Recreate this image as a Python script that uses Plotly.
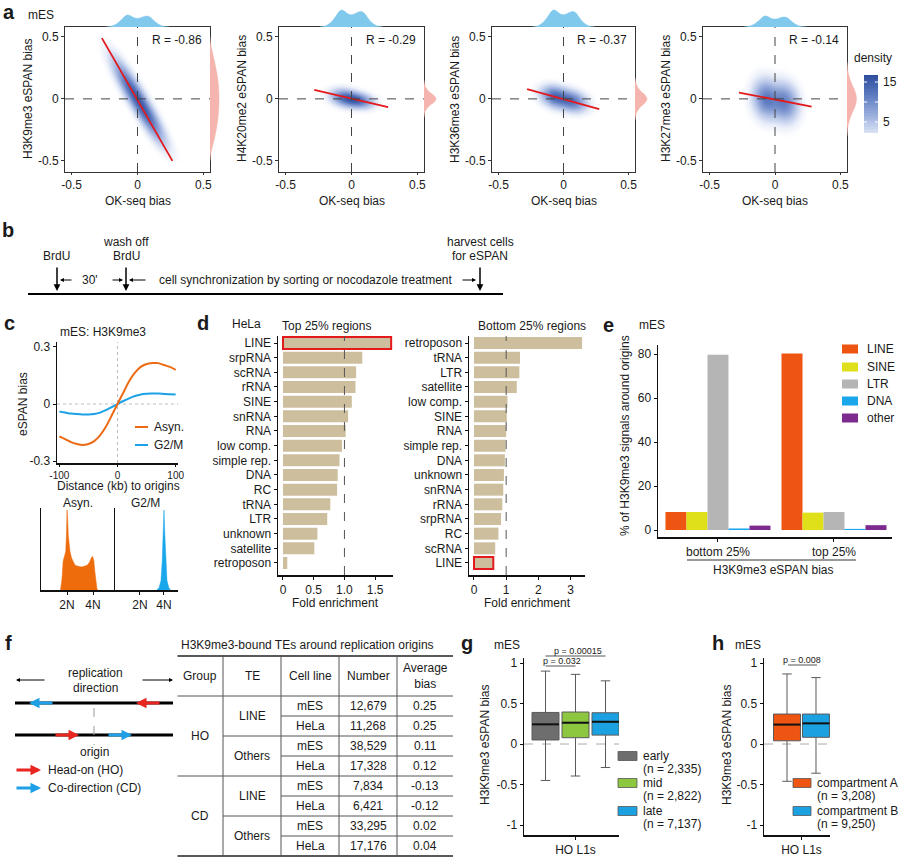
import numpy as np
import plotly.graph_objects as go

W, H = 901, 860
FONT = "Liberation Sans, Arial, Helvetica, sans-serif"
TXT = "#1a1a1a"

# ======================= DATA =======================
# ---- panel a ----
a_ylabels = ["H3K9me3 eSPAN bias", "H4K20me2 eSPAN bias", "H3K36me3 eSPAN bias", "H3K27me3 eSPAN bias"]
a_r = ["R = -0.86", "R = -0.29", "R = -0.37", "R = -0.14"]
a_fit_x0 = [-0.27, -0.283, -0.28, -0.275]
a_fit_y0 = [0.49, 0.073, 0.078, 0.051]
a_fit_x1 = [0.265, 0.278, 0.275, 0.28]
a_fit_y1 = [-0.50, -0.067, -0.083, -0.062]
# density blobs: centre x / centre y / sd x / sd y / correlation / weight
a_blob_cx = [[-0.06, 0.08], [-0.05, 0.06], [-0.07, 0.07], [-0.07, 0.08]]
a_blob_cy = [[0.10, -0.14], [0.01, -0.015], [0.02, -0.02], [0.0, -0.03]]
a_blob_sx = [[0.09, 0.09], [0.07, 0.07], [0.07, 0.07], [0.065, 0.065]]
a_blob_sy = [[0.155, 0.155], [0.045, 0.04], [0.055, 0.055], [0.1, 0.1]]
a_blob_rho = [[-0.86, -0.86], [-0.2, -0.2], [-0.2, -0.2], [-0.1, -0.1]]
a_blob_w = [[1.0, 1.0], [1.0, 0.95], [1.0, 0.9], [1.0, 0.95]]
a_peak = [15.5, 16.5, 14.5, 12]
# marginal densities
a_marg_x = [-0.24, -0.2, -0.16, -0.12, -0.1, -0.08, -0.06, -0.04, -0.02, 0.0, 0.02, 0.04, 0.06, 0.08, 0.1, 0.12, 0.16, 0.2, 0.24]
a_marg_top = [0, 0.06, 0.25, 0.62, 0.85, 1.0, 0.97, 0.85, 0.75, 0.72, 0.76, 0.84, 0.9, 0.9, 0.8, 0.58, 0.22, 0.05, 0]
a_top_px = [12, 17, 17, 11]
a_right_y = [
    [0.5, 0.45, 0.4, 0.3, 0.2, 0.1, 0, -0.1, -0.2, -0.3, -0.4, -0.45, -0.5],
    [0.15, 0.1, 0.06, 0.03, 0, -0.03, -0.06, -0.1, -0.15],
    [0.17, 0.12, 0.07, 0.035, 0, -0.035, -0.07, -0.12, -0.17],
    [0.3, 0.2, 0.12, 0.06, 0, -0.06, -0.12, -0.2, -0.3]]
a_right_w = [
    [0, 0.05, 0.2, 0.5, 0.78, 0.95, 1.0, 0.95, 0.8, 0.55, 0.22, 0.06, 0],
    [0, 0.1, 0.4, 0.8, 1.0, 0.8, 0.4, 0.1, 0],
    [0, 0.1, 0.4, 0.8, 1.0, 0.8, 0.4, 0.1, 0],
    [0, 0.15, 0.5, 0.85, 1.0, 0.85, 0.5, 0.15, 0]]
a_right_px = [9, 12, 12, 9.5]
a_cbar_ticks = [5, 10, 15]
a_cbar_text = ["5", "", "15"]

# ---- panel c ----
c_x = [-100, -90, -80, -70, -60, -50, -40, -30, -20, -10, 0, 10, 20, 30, 40, 50, 60, 70, 80, 90, 100]
c_asyn = [-0.17, -0.185, -0.20, -0.21, -0.215, -0.21, -0.195, -0.165, -0.12, -0.06, 0.0,
          0.06, 0.12, 0.165, 0.195, 0.21, 0.215, 0.215, 0.205, 0.195, 0.18]
c_g2m = [-0.04, -0.045, -0.05, -0.053, -0.055, -0.055, -0.052, -0.045, -0.032, -0.016, 0.0,
         0.016, 0.03, 0.042, 0.05, 0.054, 0.055, 0.055, 0.053, 0.051, 0.05]
hist_asyn_x = [1.5, 1.56, 1.62, 1.7, 1.8, 1.9, 1.96, 2.0, 2.04, 2.1, 2.17, 2.23, 2.35, 2.5, 2.62, 2.8, 3.0, 3.2,
               3.4, 3.55, 3.7, 3.8, 3.9, 3.98, 4.06, 4.15, 4.22, 4.3, 4.35]
hist_asyn_y = [0, 0.06, 0.15, 0.36, 0.42, 0.48, 0.7, 1.0, 0.92, 0.68, 0.55, 0.48, 0.4, 0.34, 0.31, 0.3, 0.29, 0.29,
               0.3, 0.31, 0.34, 0.38, 0.41, 0.42, 0.37, 0.22, 0.1, 0.02, 0]
hist_g2m_x = [3.4, 3.6, 3.75, 3.85, 3.93, 4.0, 4.07, 4.15, 4.25, 4.4, 4.55]
hist_g2m_y = [0, 0.03, 0.12, 0.35, 0.7, 1.0, 0.7, 0.35, 0.12, 0.03, 0]

# ---- panel d ----
d_top_cats = ["LINE", "srpRNA", "scRNA", "rRNA", "SINE", "snRNA", "RNA", "low comp.", "simple rep.", "DNA",
              "RC", "tRNA", "LTR", "unknown", "satellite", "retroposon"]
d_top_vals = [1.76, 1.29, 1.19, 1.18, 1.12, 1.06, 1.02, 0.96, 0.92, 0.89, 0.88, 0.77, 0.72, 0.56, 0.51, 0.07]
d_bot_cats = ["retroposon", "tRNA", "LTR", "satellite", "low comp.", "SINE", "RNA", "simple rep.", "DNA",
              "unknown", "snRNA", "rRNA", "srpRNA", "RC", "scRNA", "LINE"]
d_bot_vals = [3.36, 1.43, 1.41, 1.33, 1.04, 1.02, 1.0, 0.98, 0.96, 0.93, 0.91, 0.88, 0.84, 0.76, 0.66, 0.6]

# ---- panel e ----
e_groups = ["bottom 25%", "top 25%"]
e_types = ["LINE", "SINE", "LTR", "DNA", "other"]
e_line = [8.2, 80.2]
e_sine = [8.2, 7.9]
e_ltr = [79.7, 8.2]
e_dna = [0.7, 0.5]
e_other = [2.0, 2.2]
e_colors = ["#ee5412", "#dfe01a", "#b5b5b5", "#1aa6ea", "#7d2b8f"]

# ---- panel f ----
f_header = ["Group", "TE", "Cell line", "Number", "Average<br>bias"]
f_groups = ["HO", "CD"]
f_te = ["LINE", "Others", "LINE", "Others"]
f_cell = ["mES", "HeLa", "mES", "HeLa", "mES", "HeLa", "mES", "HeLa"]
f_number = ["12,679", "11,268", "38,529", "17,328", "7,834", "6,421", "33,295", "17,176"]
f_bias = ["0.25", "0.25", "0.11", "0.12", "-0.13", "-0.12", "0.02", "0.04"]

# ---- panel g ----
g_labels = ["early", "mid", "late"]
g_n = ["(n = 2,335)", "(n = 2,822)", "(n = 7,137)"]
g_upper = [0.90, 0.86, 0.78]
g_q3 = [0.39, 0.395, 0.386]
g_median = [0.243, 0.263, 0.275]
g_q1 = [0.05, 0.078, 0.11]
g_lower = [-0.45, -0.395, -0.29]
g_colors = ["#6e6e6e", "#8dc63f", "#1ba1e2"]
g_pvals = ["p = 0.00015", "p = 0.032"]

# ---- panel h ----
h_labels = ["compartment A", "compartment B"]
h_n = ["(n = 3,208)", "(n = 9,250)"]
h_upper = [0.865, 0.82]
h_q3 = [0.37, 0.37]
h_median = [0.24, 0.255]
h_q1 = [0.04, 0.083]
h_lower = [-0.46, -0.36]
h_colors = ["#ee5412", "#1ba1e2"]
h_pval = "p = 0.008"

# ======================= HELPERS =======================
fig = go.Figure()
layout_axes = {}
annotations = []
shapes = []
_count = [0]


def X(p):
    return p / W


def Y(p):
    return 1 - p / H


def dx(a, b):
    return [a / W, b / W]


def dy(top, bottom):
    return [1 - bottom / H, 1 - top / H]


def new_axes(xdom, ydom, xr, yr, xkw=None, ykw=None):
    _count[0] += 1
    n = _count[0]
    s = "" if n == 1 else str(n)
    base = dict(showgrid=False, zeroline=False, fixedrange=True, showline=False, ticks="", showticklabels=False)
    xa = dict(base, domain=dx(*xdom), range=xr, anchor="y" + s)
    ya = dict(base, domain=dy(*ydom), range=yr, anchor="x" + s)
    if xkw:
        xa.update(xkw)
    if ykw:
        ya.update(ykw)
    layout_axes["xaxis" + s] = xa
    layout_axes["yaxis" + s] = ya
    return "x" + s, "y" + s


def vis(tickvals=None, ticktext=None, mirror=False, lw=1, lc="#333333", ticks="outside", fs=12, tl=3):
    d = dict(showline=True, linecolor=lc, linewidth=lw, mirror=mirror, ticks=ticks, ticklen=tl, tickwidth=1,
             tickcolor=lc, showticklabels=tickvals is not None,
             tickfont=dict(size=fs, color=TXT, family=FONT))
    if tickvals is not None:
        d["tickvals"] = tickvals
        d["ticktext"] = ticktext if ticktext is not None else [str(v) for v in tickvals]
    return d


def text(x, y, s, size=12, xa="center", ya="middle", bold=False, angle=0, color=TXT):
    annotations.append(dict(x=X(x), y=Y(y), xref="paper", yref="paper", text=("<b>%s</b>" % s) if bold else s,
                            showarrow=False, xanchor=xa, yanchor=ya, textangle=angle,
                            font=dict(size=size, color=color, family=FONT)))


def line(x0, y0, x1, y1, color="#000", width=1, dash="solid"):
    shapes.append(dict(type="line", xref="paper", yref="paper", x0=X(x0), y0=Y(y0), x1=X(x1), y1=Y(y1),
                       line=dict(color=color, width=width, dash=dash)))


def rect(x0, y0, x1, y1, fill, lc="#555", lw=0.8):
    shapes.append(dict(type="rect", xref="paper", yref="paper", x0=X(x0), y0=Y(y0), x1=X(x1), y1=Y(y1),
                       fillcolor=fill, line=dict(color=lc, width=lw)))


def arrow(xh, yh, xt, yt, color="#000", width=1, head=2, size=1.0):
    annotations.append(dict(x=X(xh), y=Y(yh), xref="paper", yref="paper", ax=xt - xh, ay=yt - yh,
                            axref="pixel", ayref="pixel", text="", showarrow=True, arrowhead=head,
                            arrowsize=size, arrowwidth=width, arrowcolor=color, standoff=0, startstandoff=0))


def axline(xref, yref, orient, val, color="#444", dash="dash", width=1, layer="above"):
    if orient == "v":
        shapes.append(dict(type="line", xref=xref, yref=yref + " domain", x0=val, x1=val, y0=0, y1=1,
                           line=dict(color=color, dash=dash, width=width), layer=layer))
    else:
        shapes.append(dict(type="line", xref=xref + " domain", yref=yref, x0=0, x1=1, y0=val, y1=val,
                           line=dict(color=color, dash=dash, width=width), layer=layer))


# ======================= PANEL A =======================
text(9, 12, "a", 20, bold=True)
text(41, 15, "mES")
a_boxes = [(65, 210), (279, 424), (492, 635), (703, 847)]
a_top, a_bot = 27, 172
XR = [-0.55, 0.55]
YR = [-0.59, 0.58]
gx = np.linspace(-0.36, 0.36, 97)
gy = np.linspace(-0.5, 0.5, 126)
GX, GY = np.meshgrid(gx, gy)
cscale = [[0.0, "rgba(255,255,255,0)"], [0.04, "rgba(236,240,250,0.55)"], [0.15, "#d4ddf2"],
          [0.4, "#98acdc"], [0.7, "#5a78be"], [1.0, "#2c4c9c"]]

for i, (l, r) in enumerate(a_boxes):
    tv = [-0.5, 0, 0.5]
    tt = ["-0.5", "0", "0.5"]
    xa, ya = new_axes((l, r), (a_top, a_bot), XR, YR,
                      xkw=vis(tv, tt, mirror=True, tl=2), ykw=vis(tv, tt, mirror=True))
    Z = np.zeros_like(GX)
    for cx, cy, sx, sy, rho, w in zip(a_blob_cx[i], a_blob_cy[i], a_blob_sx[i], a_blob_sy[i],
                                       a_blob_rho[i], a_blob_w[i]):
        u = (GX - cx) / sx
        v = (GY - cy) / sy
        Z += w * np.exp(-(u * u - 2 * rho * u * v + v * v) / (2 * (1 - rho * rho)))
    Z = Z / Z.max() * a_peak[i]
    fig.add_trace(go.Heatmap(x=gx, y=gy, z=Z, colorscale=cscale, zmin=0, zmax=17, showscale=False,
                             xaxis=xa, yaxis=ya, hoverinfo="skip"))
    axline(xa, ya, "v", 0)
    axline(xa, ya, "h", 0)
    fig.add_trace(go.Scatter(x=[a_fit_x0[i], a_fit_x1[i]], y=[a_fit_y0[i], a_fit_y1[i]], mode="lines",
                             line=dict(color="#e3191c", width=1.8), xaxis=xa, yaxis=ya, hoverinfo="skip"))
    text(r - 6, 40, a_r[i], xa="right")
    text(l - 37, 99, a_ylabels[i], angle=-90)
    text((l + r) / 2, 201, "OK-seq bias")
    # top marginal
    xt, yt = new_axes((l, r), (8, a_top), XR, [0, 19.0 / a_top_px[i]])
    fig.add_trace(go.Scatter(x=a_marg_x, y=a_marg_top, mode="lines", fill="tozeroy", fillcolor="#80c9ec",
                             line=dict(color="#80c9ec", width=0.5, shape="spline"), xaxis=xt, yaxis=yt,
                             hoverinfo="skip"))
    # right marginal
    xm, ym = new_axes((r, r + 14), (a_top, a_bot), [0, 14.0 / a_right_px[i]], YR)
    fig.add_trace(go.Scatter(x=a_right_w[i], y=a_right_y[i], mode="lines", fill="tozerox", fillcolor="#f5b4ad",
                             line=dict(color="#f5b4ad", width=0.5, shape="spline"), xaxis=xm, yaxis=ym,
                             hoverinfo="skip"))

# colour key (density)
text(873, 58, "density")
cb_levels = np.linspace(2.25, 16.75, 40)
xc, yc = new_axes((864, 878), (75, 133), [0, 1], [2.25, 16.75])
fig.add_trace(go.Heatmap(x=[0, 1], y=cb_levels, z=[[v, v] for v in cb_levels], colorscale=cscale, zmin=0, zmax=17,
                         showscale=False, xaxis=xc, yaxis=yc, hoverinfo="skip"))
for tvv, ttt in zip(a_cbar_ticks, a_cbar_text):
    shapes.append(dict(type="line", xref=xc + " domain", yref=yc, x0=0.0, x1=0.22, y0=tvv, y1=tvv,
                       line=dict(color="white", width=1)))
    shapes.append(dict(type="line", xref=xc + " domain", yref=yc, x0=0.78, x1=1.0, y0=tvv, y1=tvv,
                       line=dict(color="white", width=1)))
    if ttt:
        annotations.append(dict(x=1.0, y=tvv, xref=xc + " domain", yref=yc, text=ttt, showarrow=False,
                                xanchor="left", yanchor="middle", xshift=3,
                                font=dict(size=12, color=TXT, family=FONT)))

# ======================= PANEL B =======================
text(8, 230, "b", 20, bold=True)
text(57, 256, "BrdU")
text(126, 242, "wash off")
text(126, 256, "BrdU")
text(480, 242, "harvest cells")
text(480, 256, "for eSPAN")
text(90, 280, "30'")
text(157, 280, "cell synchronization by sorting or nocodazole treatment", xa="left")
for ax_ in (57, 126, 480):
    arrow(ax_, 291, ax_, 266, width=1.5, size=0.9)
arrow(60, 280, 73, 280, size=0.8)
arrow(123, 280, 111, 280, size=0.8)
arrow(129, 280, 147, 280, size=0.8)
arrow(476, 280, 461, 280, size=0.8)
line(28, 294, 503, 294, width=2)

# ======================= PANEL C =======================
text(9, 323, "c", 20, bold=True)
text(103, 332, "mES: H3K9me3")
xa, ya = new_axes((57, 178), (342, 463), [-104, 104], [-0.31, 0.326],
                  xkw=vis([-100, 0, 100], ["-100", "0", "100"], lw=1.5, lc="#111", fs=10, tl=2),
                  ykw=vis([-0.3, 0, 0.3], ["-0.3", "0", "0.3"], lw=1.5, lc="#111"))
axline(xa, ya, "v", 0, color="#bbbbbb", dash="dot", layer="below")
axline(xa, ya, "h", 0, color="#bbbbbb", dash="dot", layer="below")
fig.add_trace(go.Scatter(x=c_x, y=c_g2m, mode="lines", line=dict(color="#1aa1e6", width=2, shape="spline"),
                         xaxis=xa, yaxis=ya, hoverinfo="skip"))
fig.add_trace(go.Scatter(x=c_x, y=c_asyn, mode="lines", line=dict(color="#ec6a13", width=2, shape="spline"),
                         xaxis=xa, yaxis=ya, hoverinfo="skip"))
line(135, 427, 148, 427, color="#ec6a13", width=2)
text(152, 427, "Asyn.", xa="left")
line(135, 445, 148, 445, color="#1aa1e6", width=2)
text(152, 445, "G2/M", xa="left")
text(23, 404, "eSPAN bias", angle=-90)
text(118, 486, "Distance (kb) to origins")

text(78, 503, "Asyn.")
text(145, 503, "G2/M")
hx1, hy1 = new_axes((41, 115), (508, 590), [0, 5.69], [0, 1.025],
                    xkw=vis([2, 4], ["2N", "4N"], lw=1.5, lc="#111"), ykw=vis(None, lw=1.5, lc="#111", ticks=""))
fig.add_trace(go.Scatter(x=hist_asyn_x, y=hist_asyn_y, mode="lines", fill="tozeroy", fillcolor="#ef6c0c",
                         line=dict(color="#ef6c0c", width=0.5), xaxis=hx1, yaxis=hy1, hoverinfo="skip"))
hx2, hy2 = new_axes((115, 178), (508, 590), [-0.083, 5.17], [0, 1.025],
                    xkw=vis([2, 4], ["2N", "4N"], lw=1.5, lc="#111"), ykw=vis(None, lw=1.5, lc="#111", ticks=""))
fig.add_trace(go.Scatter(x=hist_g2m_x, y=hist_g2m_y, mode="lines", fill="tozeroy", fillcolor="#1aa6ea",
                         line=dict(color="#1aa6ea", width=0.5), xaxis=hx2, yaxis=hy2, hoverinfo="skip"))

# ======================= PANEL D =======================
text(203, 323, "d", 20, bold=True)
text(230, 324, "HeLa", xa="left")
text(280, 326, "Top 25% regions", xa="left")
text(476, 326, "Bottom 25% regions", xa="left")
TAN = "#cdbf9e"
for (xdom, xr, cats, vals, xt_v, xt_t) in [
        ((278, 393), [-0.081, 1.79], d_top_cats, d_top_vals, [0, 0.5, 1.0, 1.5], ["0", "0.5", "1.0", "1.5"]),
        ((469, 585), [-0.155, 3.45], d_bot_cats, d_bot_vals, [0, 1, 2, 3], ["0", "1", "2", "3"])]:
    yk = vis(cats, cats, lw=1.5, lc="#111")
    yk.update(type="category", categoryorder="array", categoryarray=cats)
    xa, ya = new_axes(xdom, (336, 575), xr, [15.82, -0.477], xkw=vis(xt_v, xt_t, lw=1.5, lc="#111"), ykw=yk)
    lc = ["#e3191c" if c == "LINE" else "rgba(0,0,0,0)" for c in cats]
    lw = [2 if c == "LINE" else 0 for c in cats]
    fig.add_trace(go.Bar(x=vals, y=cats, orientation="h", width=0.82, marker=dict(color=TAN, line=dict(color=lc, width=lw)),
                         xaxis=xa, yaxis=ya, hoverinfo="skip"))
    axline(xa, ya, "v", 1, color="#555", dash="dash")
    text((xdom[0] + xdom[1]) / 2, 603, "Fold enrichment")

# ======================= PANEL E =======================
text(608, 325, "e", 20, bold=True)
text(652, 325, "mES")
xa, ya = new_axes((658, 892), (345, 537), [-0.517, 1.5], [-3.18, 84.1],
                  xkw=vis([0, 1], e_groups, lw=1.5, lc="#111"),
                  ykw=vis([0, 20, 40, 60, 80], lw=1.5, lc="#111"))
bw = 0.181
for k, (name, vals) in enumerate(zip(e_types, [e_line, e_sine, e_ltr, e_dna, e_other])):
    fig.add_trace(go.Bar(x=[0, 1], y=vals, width=bw, offset=-2.5 * bw + k * bw, marker=dict(color=e_colors[k], line=dict(width=0)),
                         xaxis=xa, yaxis=ya, hoverinfo="skip"))
ly = [349, 367, 384, 401, 418]
for k, name in enumerate(e_types):
    rect(842, ly[k] - 4.5, 858, ly[k] + 4.5, e_colors[k], lc=e_colors[k], lw=0)
    text(865, ly[k], name, xa="left")
text(625, 436, "% of H3K9me3 signals around origins", angle=-90)
line(687, 560, 856, 560, color="#333", width=1)
text(773, 570, "H3K9me3 eSPAN bias")

# ======================= PANEL F =======================
text(8, 643, "f", 20, bold=True)
text(95, 673, "replication")
text(95, 688, "direction")
arrow(16, 680, 46, 680, size=0.8)
arrow(173, 680, 141, 680, size=0.8)
RED = "#e8251f"
BLUE = "#1f9fe5"
line(15, 703, 173, 703, width=3.2)
line(15, 735, 173, 735, width=3.2)
arrow(29, 703, 54, 703, color=BLUE, width=3, size=0.7)
arrow(136, 703, 161, 703, color=RED, width=3, size=0.7)
arrow(79, 735, 54, 735, color=RED, width=3, size=0.7)
arrow(132, 735, 107, 735, color=BLUE, width=3, size=0.7)
line(94, 708, 94, 745, color="#999", width=1, dash="dash")
text(94, 752, "origin")
arrow(41, 770, 15, 770, color=RED, width=3, size=0.7)
text(46, 770, "Head-on (HO)", xa="left")
arrow(41, 788, 15, 788, color=BLUE, width=3, size=0.7)
text(46, 788, "Co-direction (CD)", xa="left")

# table
text(178.6, 645, "H3K9me3-bound TEs around replication origins", xa="left")
cols = [177.5, 223, 281, 339, 397, 453]
ccen = [(cols[k] + cols[k + 1]) / 2 for k in range(5)]
t_top, t_head = 656, 696
rh = 20
line(cols[0], t_top, cols[-1], t_top, color="#222", width=1.5)
line(cols[0], t_head, cols[-1], t_head, color="#555", width=1)
for k in range(1, 8):
    yk = t_head + k * rh
    if k == 4:
        x0 = cols[0]
    elif k % 2 == 0:
        x0 = cols[1]
    else:
        x0 = cols[2]
    line(x0, yk, cols[-1], yk, color="#555", width=1)
t_bot = t_head + 8 * rh
line(cols[0], t_bot, cols[-1], t_bot, color="#222", width=1.5)
for c in cols[1:-1]:
    line(c, t_top, c, t_bot, color="#555", width=1)
for k, h in enumerate(f_header):
    text(ccen[k], (t_top + t_head) / 2, h)
for g, gname in enumerate(f_groups):
    text(ccen[0], t_head + (g * 4 + 2) * rh, gname)
for k, te in enumerate(f_te):
    text(ccen[1], t_head + (k * 2 + 1) * rh, te)
for k in range(8):
    yc_ = t_head + (k + 0.5) * rh
    text(ccen[2], yc_, f_cell[k])
    text(ccen[3], yc_, f_number[k])
    text(ccen[4], yc_, f_bias[k])

# ======================= PANEL G =======================
text(467, 643, "g", 20, bold=True)
text(507, 645, "mES")
bt = [-1, -0.5, 0, 0.5, 1]
btt = ["-1", "-0.5", "0", "0.5", "1"]
xa, ya = new_axes((524, 619), (658, 835), [-0.717, 2.45], [-1.123, 1.062],
                  xkw=vis([1], ["HO L1s"], lw=1.5, lc="#111"), ykw=vis(bt, btt, lw=1.5, lc="#111"))
axline(xa, ya, "h", 0, color="#aaaaaa", dash="dash", layer="below")
for k in range(3):
    fig.add_trace(go.Box(x=[k], q1=[g_q1[k]], median=[g_median[k]], q3=[g_q3[k]], lowerfence=[g_lower[k]],
                         upperfence=[g_upper[k]], width=0.9, whiskerwidth=0.35, boxpoints=False,
                         fillcolor=g_colors[k], line=dict(color="#5a5a5a", width=1), xaxis=xa, yaxis=ya,
                         hoverinfo="skip"))
    fig.add_trace(go.Scatter(x=[k - 0.45, k + 0.45], y=[g_median[k], g_median[k]], mode="lines",
                             line=dict(color="#111", width=2), xaxis=xa, yaxis=ya, hoverinfo="skip"))
text(485, 745, "H3K9me3 eSPAN bias", angle=-90)
text(578, 651, g_pvals[0], size=9)
line(545.5, 656, 605.5, 656, color="#555", width=1)
text(562, 661, g_pvals[1], size=9)
line(545.5, 666, 575.5, 666, color="#555", width=1)
gy_items = [756, 783, 811]
for k in range(3):
    rect(618, gy_items[k] - 4.5, 637, gy_items[k] + 4.5, g_colors[k])
    text(641, gy_items[k], g_labels[k], xa="left")
    text(641, gy_items[k] + 13, g_n[k], xa="left")

# ======================= PANEL H =======================
text(718, 643, "h", 20, bold=True)
text(748, 645, "mES")
xa, ya = new_axes((764, 830), (658, 835), [-0.793, 1.483], [-1.123, 1.062],
                  xkw=vis([0.5], ["HO L1s"], lw=1.5, lc="#111"), ykw=vis(bt, btt, lw=1.5, lc="#111"))
axline(xa, ya, "h", 0, color="#aaaaaa", dash="dash", layer="below")
for k in range(2):
    fig.add_trace(go.Box(x=[k], q1=[h_q1[k]], median=[h_median[k]], q3=[h_q3[k]], lowerfence=[h_lower[k]],
                         upperfence=[h_upper[k]], width=0.93, whiskerwidth=0.35, boxpoints=False,
                         fillcolor=h_colors[k], line=dict(color="#5a5a5a", width=1), xaxis=xa, yaxis=ya,
                         hoverinfo="skip"))
    fig.add_trace(go.Scatter(x=[k - 0.465, k + 0.465], y=[h_median[k], h_median[k]], mode="lines",
                             line=dict(color="#111", width=2), xaxis=xa, yaxis=ya, hoverinfo="skip"))
text(727, 745, "H3K9me3 eSPAN bias", angle=-90)
text(802, 660, h_pval, size=9)
line(788, 665, 817, 665, color="#555", width=1)
hy_items = [783, 811]
for k in range(2):
    rect(793, hy_items[k] - 4.5, 811, hy_items[k] + 4.5, h_colors[k])
    text(815, hy_items[k], h_labels[k], xa="left")
    text(815, hy_items[k] + 13, h_n[k], xa="left")

fig.update_layout(width=W, height=H, margin=dict(l=0, r=0, t=0, b=0, autoexpand=False), paper_bgcolor="white",
                  plot_bgcolor="rgba(0,0,0,0)", showlegend=False, barmode="overlay",
                  font=dict(family=FONT, size=12, color=TXT), annotations=annotations, shapes=shapes,
                  **layout_axes)
fig.write_html("out.html", config={"displayModeBar": False, "staticPlot": True},
               post_script="document.body.style.margin='0px';")
